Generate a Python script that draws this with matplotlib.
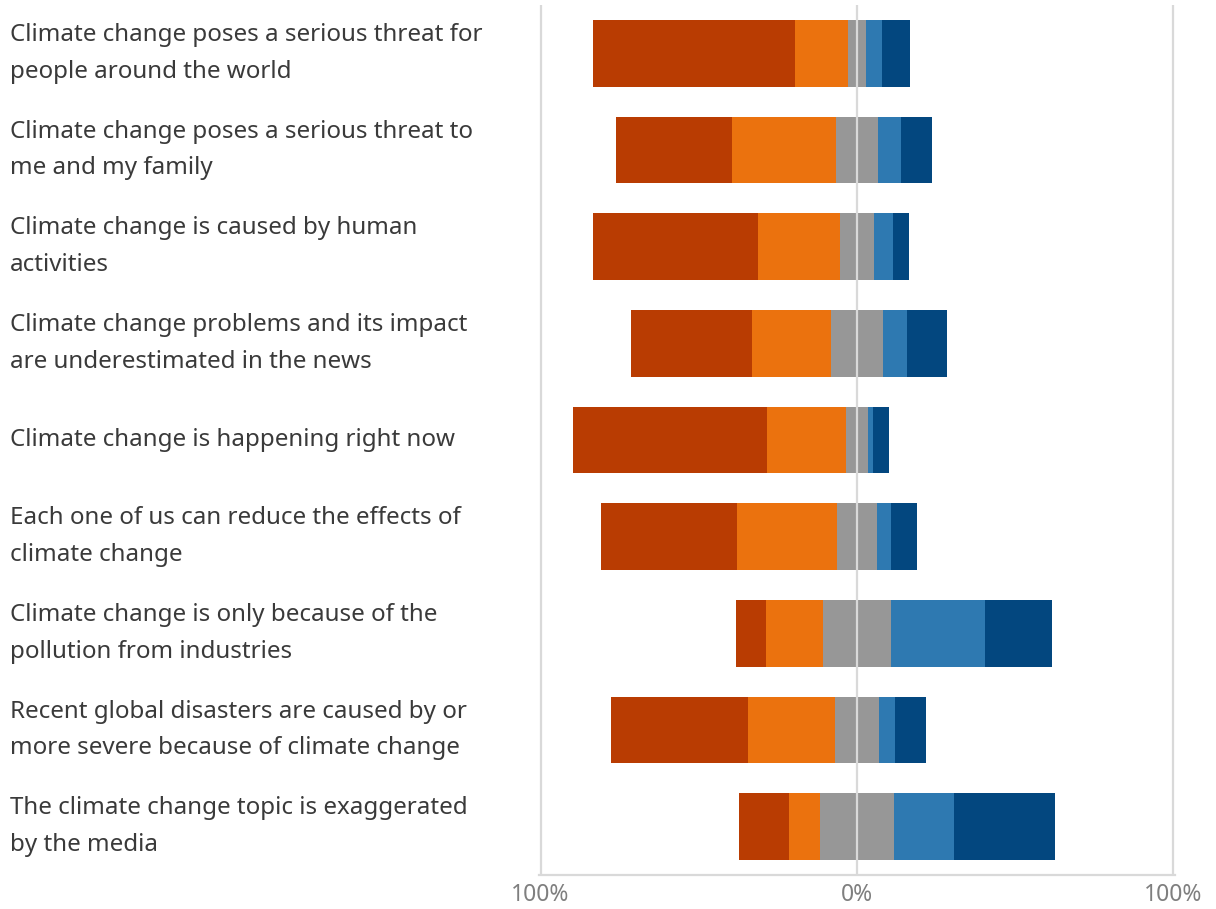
import matplotlib
matplotlib.use("Agg", force=True)
import matplotlib.pyplot as plt
import matplotlib.transforms as mtransforms
import numpy as np

statements = [
    "Climate change poses a serious threat for\npeople around the world",
    "Climate change poses a serious threat to\nme and my family",
    "Climate change is caused by human\nactivities",
    "Climate change problems and its impact\nare underestimated in the news",
    "Climate change is happening right now",
    "Each one of us can reduce the effects of\nclimate change",
    "Climate change is only because of the\npollution from industries",
    "Recent global disasters are caused by or\nmore severe because of climate change",
    "The climate change topic is exaggerated\nby the media",
]

# percent of answers per statement, left to right
strong_left = [63.6, 36.5, 52.1, 38.2, 61.2, 43.0, 9.3, 43.5, 15.9]
mild_left = [16.9, 32.9, 26.1, 25.1, 24.8, 31.7, 18.1, 27.4, 10.0]
neutral = [5.6, 13.3, 10.6, 16.4, 7.2, 12.6, 21.6, 13.8, 23.1]
mild_right = [5.2, 7.1, 6.0, 7.7, 1.5, 4.3, 29.8, 5.2, 19.1]
strong_right = [8.9, 10.1, 5.1, 12.4, 4.9, 8.5, 21.1, 9.8, 32.0]

tick_values = [-100, 0, 100]
tick_labels = ["100%", "0%", "100%"]

colors = ["#B93C02", "#EB720E", "#979797", "#2E79B1", "#03477F"]

plt.rcParams["font.family"] = ["Noto Sans", "DejaVu Sans"]

fig = plt.figure(figsize=(12.16, 9.09), dpi=100)
ax = fig.add_axes([539 / 1216, 1 - 875 / 909, (1175 - 539) / 1216, 870 / 909])

segments = np.array([strong_left, mild_left, neutral, mild_right, strong_right])
starts = -(segments[0] + segments[1] + segments[2] / 2)
y = np.arange(len(statements))

left = starts.copy()
for seg, color in zip(segments, colors):
    ax.barh(y, seg, left=left, height=0.69, color=color, edgecolor="none", zorder=2)
    left = left + seg

for xv in tick_values:
    ax.axvline(xv, color="#d9d9d9", linewidth=1.6, zorder=3 if xv == 0 else 1)

ax.set_xlim(-100.5, 100.5)
ax.set_ylim(len(statements) - 0.5, -0.5)
ax.set_xticks(tick_values)
ax.set_xticklabels(tick_labels, color="#7f7f7f", fontsize=16.5)
ax.tick_params(axis="x", length=0, pad=6)
ax.set_yticks([])
for side in ("top", "left", "right"):
    ax.spines[side].set_visible(False)
ax.spines["bottom"].set_color("#d9d9d9")
ax.spines["bottom"].set_linewidth(1.6)

trans = mtransforms.blended_transform_factory(fig.transFigure, ax.transData)
for yi, label in zip(y, statements):
    fig.text(10 / 1216, yi, label, transform=trans, ha="left", va="center",
             fontsize=17.4, color="#3a3a3a", linespacing=1.7)

fig.savefig("out.png", dpi=100)
